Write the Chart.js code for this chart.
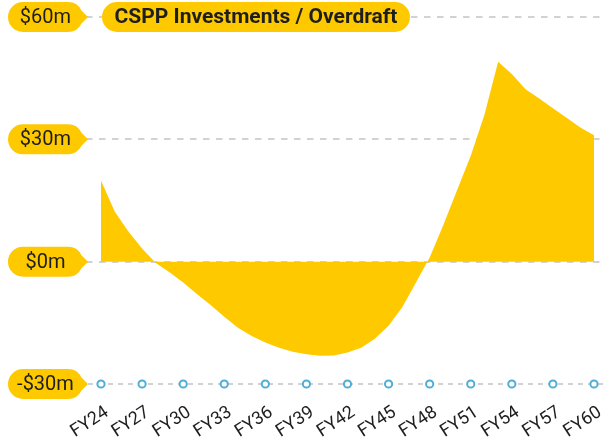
<!DOCTYPE html>
<html><head><meta charset="utf-8">
<script src="https://cdn.jsdelivr.net/npm/chart.js@4.4.1/dist/chart.umd.min.js"></script>
<style>html,body{margin:0;padding:0;background:#fff}#wrap{width:604px;height:442px;position:relative}</style>
</head><body><div id="wrap"><canvas id="c" width="604" height="442"></canvas></div>
<script>
const categories = ['FY24','FY25','FY26','FY27','FY28','FY29','FY30','FY31','FY32','FY33','FY34','FY35','FY36','FY37','FY38','FY39','FY40','FY41','FY42','FY43','FY44','FY45','FY46','FY47','FY48','FY49','FY50','FY51','FY52','FY53','FY54','FY55','FY56','FY57','FY58','FY59','FY60'];
const values = [19.9,12.3,7.4,3.2,-0.3,-2.6,-5.1,-7.9,-10.6,-13.5,-16.2,-18.2,-19.8,-21.1,-22.1,-22.7,-23.1,-23.0,-22.3,-21.1,-18.9,-15.7,-11.2,-5.1,1.0,9.0,17.5,26.0,36.0,49.0,46.0,42.3,40.0,37.6,35.3,32.9,31.0];
const yTickValues = [60,30,0,-30];
const yTickLabels = ['$60m','$30m','$0m','-$30m'];
const xTickEvery = 3;
const chartTitle = 'CSPP Investments / Overdraft';

const YELLOW = '#FFC900';
const GRID = '#D2D2D2';
const BLUE = '#4FAED8';
const TEXT = '#1e1e1e';
const FONT = 'Roboto, "Noto Sans", sans-serif';

function pillPath(ctx, x, y, w, h, pointer) {
  const r = h / 2;
  ctx.beginPath();
  ctx.moveTo(x + r, y);
  ctx.lineTo(x + w - r, y);
  if (pointer) {
    ctx.arc(x + w - r, y + r, r, -Math.PI / 2, -0.45);
    ctx.lineTo(x + w + 5, y + r);
    ctx.arc(x + w - r, y + r, r, 0.45, Math.PI / 2);
  } else {
    ctx.arc(x + w - r, y + r, r, -Math.PI / 2, Math.PI / 2);
  }
  ctx.lineTo(x + r, y + h);
  ctx.arc(x + r, y + r, r, Math.PI / 2, Math.PI * 1.5);
  ctx.closePath();
  ctx.fill();
}

const decor = {
  id: 'decor',
  beforeDatasetsDraw(chart) {
    const ctx = chart.ctx, y = chart.scales.y, W = chart.width;
    ctx.save();
    ctx.strokeStyle = GRID;
    ctx.lineWidth = 2;
    yTickValues.forEach(v => {
      if (v === yTickValues[yTickValues.length - 1]) return;
      const py = Math.round(y.getPixelForValue(v));
      ctx.setLineDash([6.5, 6.5]);
      ctx.beginPath();
      ctx.moveTo(86, py);
      ctx.lineTo(W, py);
      ctx.stroke();
    });
    ctx.restore();
  },
  afterDatasetsDraw(chart) {
    const ctx = chart.ctx, y = chart.scales.y, x = chart.scales.x, W = chart.width;
    ctx.save();
    const by = Math.round(y.getPixelForValue(yTickValues[yTickValues.length - 1]));
    ctx.strokeStyle = GRID;
    ctx.lineWidth = 2;
    ctx.setLineDash([5, 5]);
    ctx.beginPath();
    ctx.moveTo(88, by);
    ctx.lineTo(W, by);
    ctx.stroke();
    ctx.setLineDash([]);
    categories.forEach((c, i) => {
      if (i % xTickEvery !== 0) return;
      const px = x.getPixelForValue(i);
      ctx.beginPath();
      ctx.arc(px, by, 3.6, 0, Math.PI * 2);
      ctx.fillStyle = '#fff';
      ctx.fill();
      ctx.strokeStyle = BLUE;
      ctx.lineWidth = 2;
      ctx.stroke();
    });
    ctx.font = '20px ' + FONT;
    ctx.textAlign = 'center';
    ctx.textBaseline = 'middle';
    yTickValues.forEach((v, i) => {
      const py = y.getPixelForValue(v);
      ctx.fillStyle = YELLOW;
      pillPath(ctx, 8, py - 15, 75, 30, true);
      ctx.fillStyle = TEXT;
      ctx.fillText(yTickLabels[i], 45.5, py + 1);
    });
    const ty = y.getPixelForValue(yTickValues[0]);
    ctx.fillStyle = YELLOW;
    pillPath(ctx, 102, ty - 15, 308, 30, false);
    ctx.font = 'bold 21px ' + FONT;
    ctx.fillStyle = TEXT;
    ctx.fillText(chartTitle, 256, ty + 1);
    ctx.restore();
  }
};

new Chart(document.getElementById('c'), {
  type: 'line',
  data: {
    labels: categories,
    datasets: [{
      data: values,
      fill: 'origin',
      backgroundColor: YELLOW,
      borderColor: YELLOW,
      borderWidth: 0,
      pointRadius: 0,
      tension: 0
    }]
  },
  options: {
    responsive: false,
    animation: false,
    devicePixelRatio: 1,
    layout: { padding: { left: 101, right: 10, top: 17, bottom: 0 } },
    plugins: { legend: { display: false }, tooltip: { enabled: false } },
    scales: {
      x: {
        grid: { display: false, drawTicks: false },
        border: { display: false },
        afterFit(s) { s.height = 58; s.paddingLeft = 0; s.paddingRight = 0; },
        ticks: {
          autoSkip: false,
          minRotation: 33,
          maxRotation: 33,
          padding: 18,
          labelOffset: 6,
          color: TEXT,
          font: { family: FONT, size: 18 },
          callback(v, i) { return i % xTickEvery === 0 ? categories[i] : null; }
        }
      },
      y: {
        display: false,
        min: yTickValues[yTickValues.length - 1],
        max: yTickValues[0],
        ticks: { stepSize: 30 }
      }
    }
  },
  plugins: [decor]
});
</script>
</body></html>
